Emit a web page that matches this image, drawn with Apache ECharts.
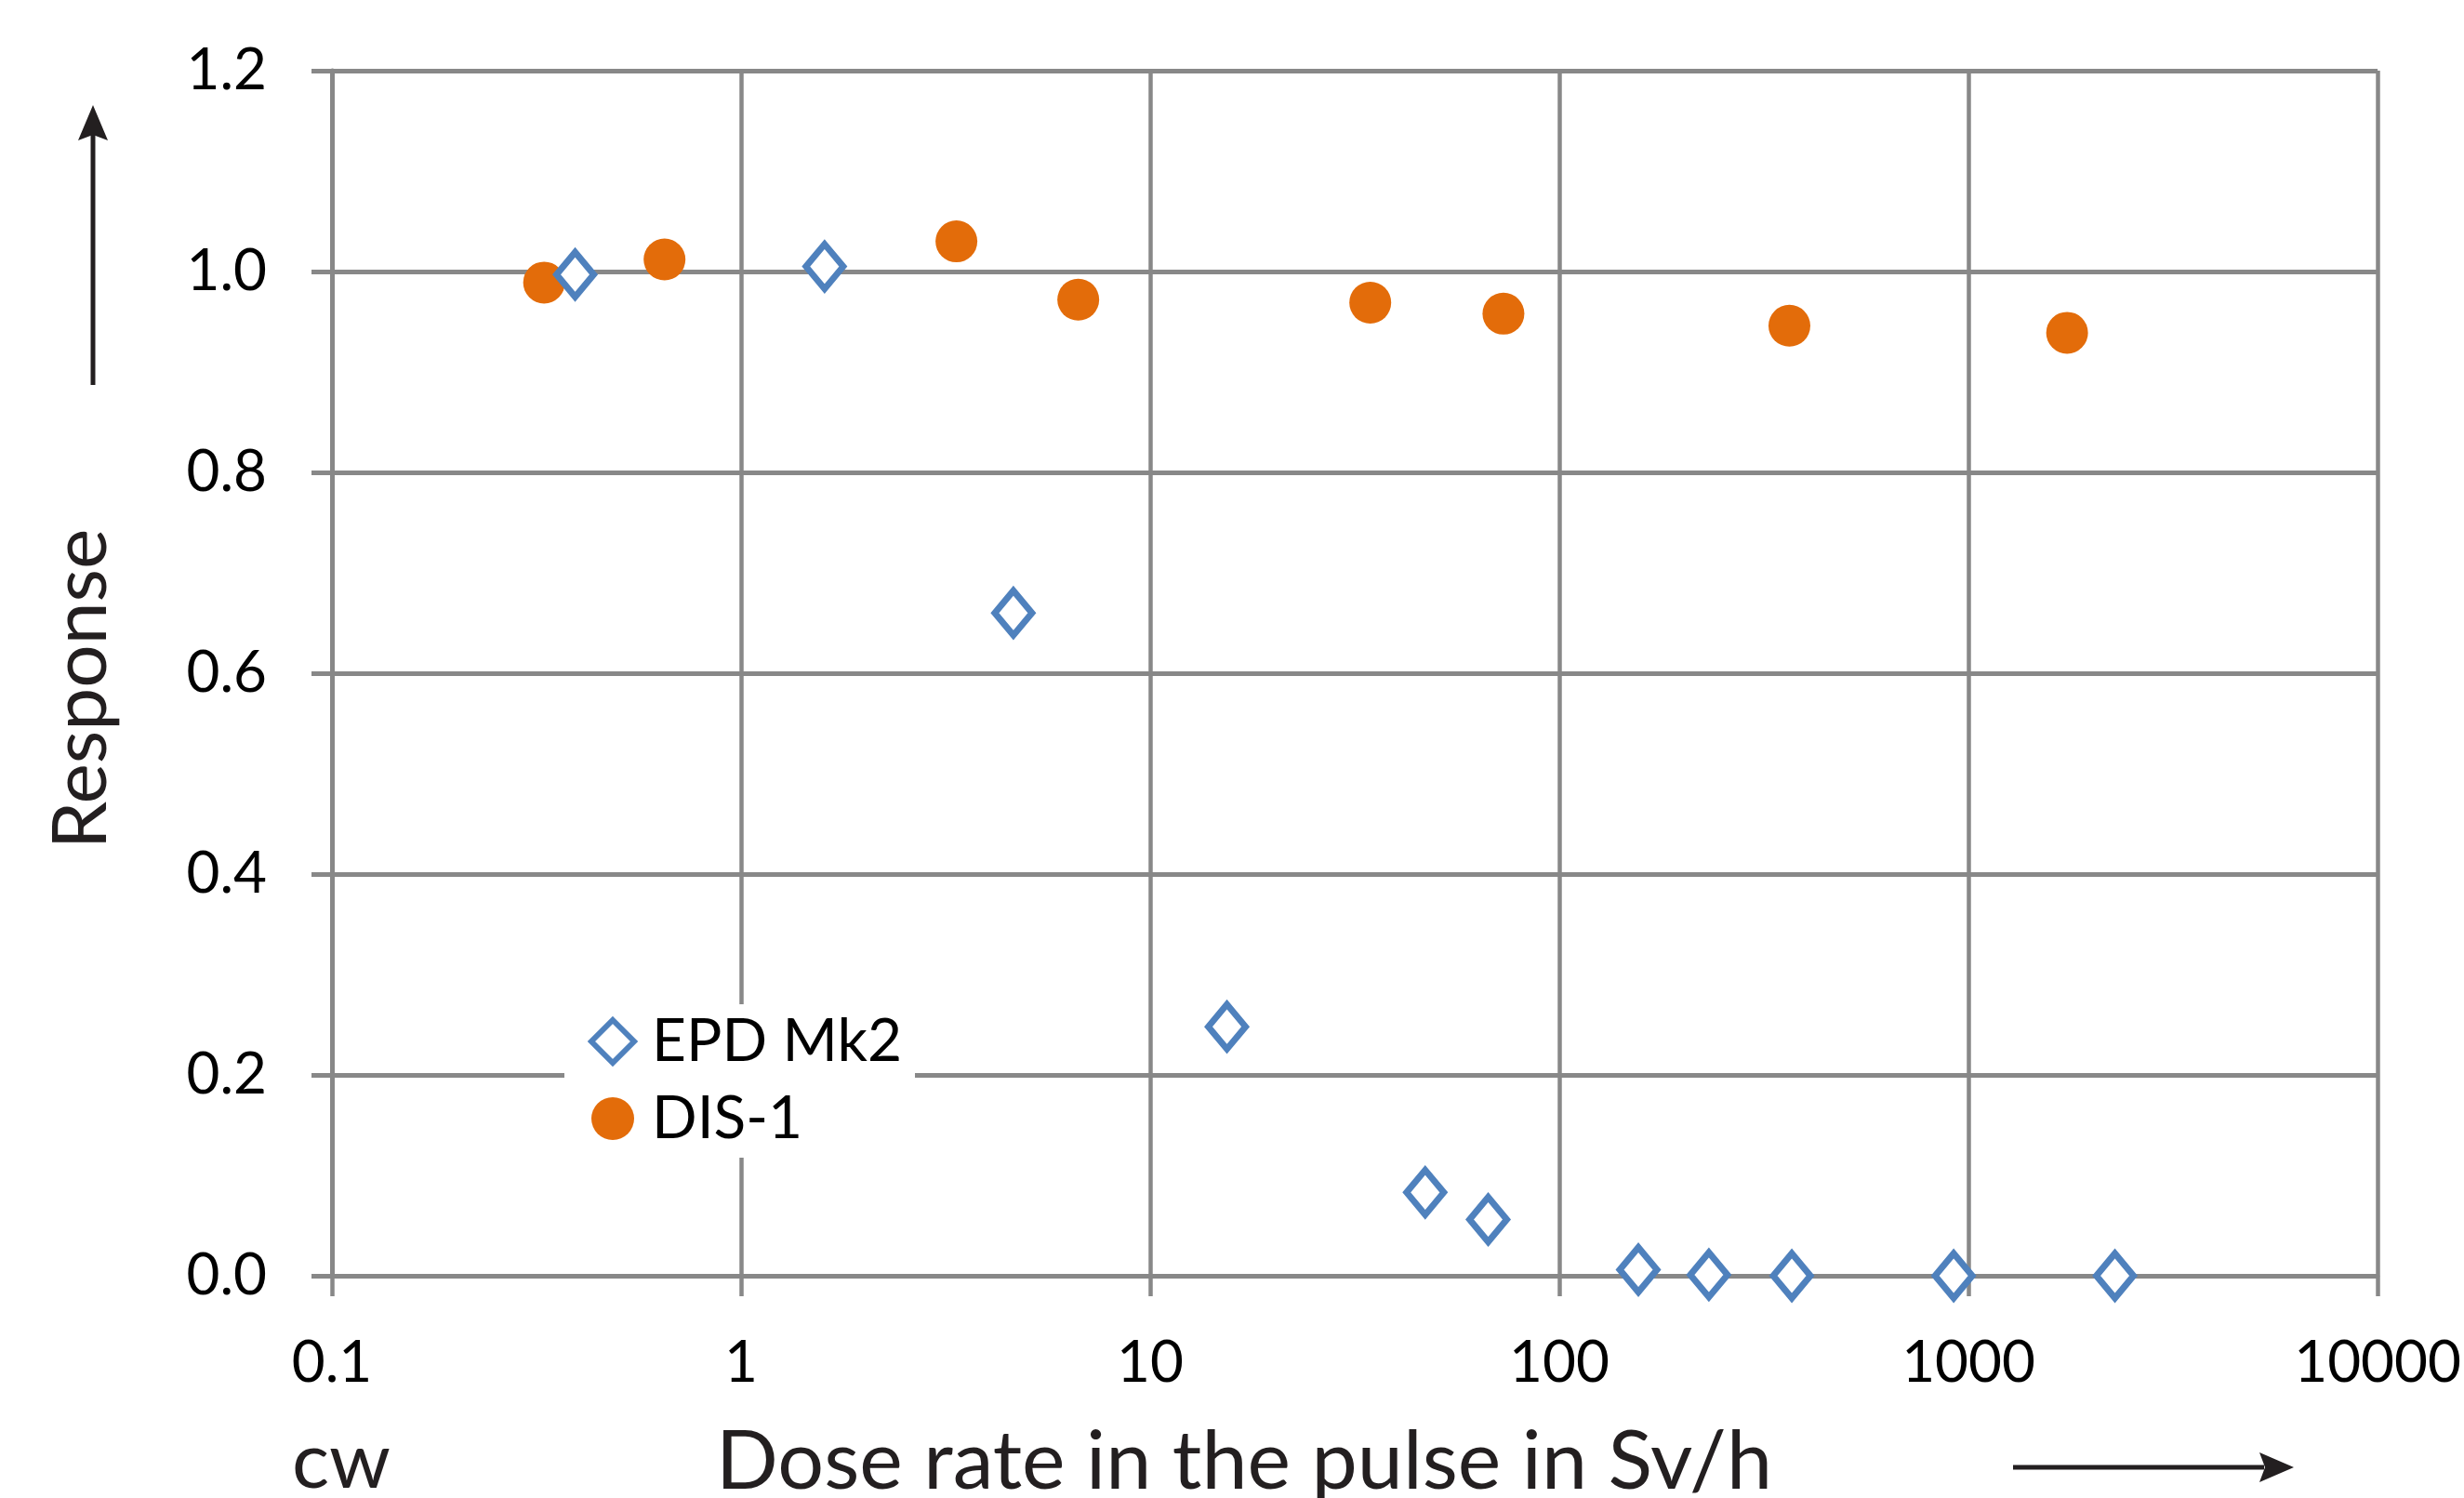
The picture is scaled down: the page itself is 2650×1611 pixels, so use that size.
<!DOCTYPE html>
<html>
<head>
<meta charset="utf-8">
<script src="https://cdn.jsdelivr.net/npm/echarts@6/dist/echarts.min.js"></script>
<style>
html,body{margin:0;padding:0;background:#fff;}
#chart{width:2650px;height:1611px;}
</style>
</head>
<body>
<div id="chart"></div>
<script>
const seriesNames = ['EPD Mk2', 'DIS-1'];
const epdX = [0.393, 1.60, 4.63, 15.4, 47, 67, 156, 232, 370, 920, 2280];
const epdY = [0.997, 1.005, 0.660, 0.248, 0.083, 0.056, 0.006, 0.001, 0.000, 0.000, 0.000];
const disX = [0.33, 0.65, 3.36, 6.67, 34.5, 73, 365, 1742];
const disY = [0.989, 1.012, 1.030, 0.972, 0.969, 0.958, 0.946, 0.939];
const xTickLabels = ['0.1', '1', '10', '100', '1000', '10000'];
const yTickLabels = ['0.0', '0.2', '0.4', '0.6', '0.8', '1.0', '1.2'];
const xTitle = 'Dose rate in the pulse in Sv/h';
const yTitle = 'Response';
const cwLabel = 'cw';

const FONT = 'Lato';
const GRID = '#888888';
const TXT = '#231F20';

const chart = echarts.init(document.getElementById('chart'), null, {renderer: 'canvas'});
const pairs = (xs, ys) => xs.map((x, i) => [x, ys[i]]);

function xLabel(v) {
  const idx = Math.round(Math.log10(v)) + 1;
  return xTickLabels[idx] !== undefined ? xTickLabels[idx] : '';
}
function yLabel(v) {
  const idx = Math.round(v / 0.2);
  return yTickLabels[idx] !== undefined ? yTickLabels[idx] : '';
}

const option = {
  animation: false,
  backgroundColor: '#fff',
  grid: {left: 357, top: 76, width: 2213, height: 1296, containLabel: false},
  xAxis: {
    type: 'log', logBase: 10, min: 0.1, max: 10000,
    axisLine: {show: true, lineStyle: {color: GRID, width: 4.5}},
    axisTick: {show: true, inside: false, length: 22, lineStyle: {color: GRID, width: 4.5}},
    splitLine: {show: true, lineStyle: {color: GRID, width: 4.5}},
    minorTick: {show: false}, minorSplitLine: {show: false},
    axisLabel: {show: true, formatter: xLabel, fontFamily: FONT, fontSize: 62, color: '#000', margin: 63}
  },
  yAxis: {
    type: 'value', min: 0, max: 1.2, interval: 0.2,
    axisLine: {show: true, lineStyle: {color: GRID, width: 5}},
    axisTick: {show: true, inside: false, length: 22, lineStyle: {color: GRID, width: 5}},
    splitLine: {show: true, lineStyle: {color: GRID, width: 5}},
    axisLabel: {show: true, formatter: yLabel, fontFamily: FONT, fontSize: 62, color: '#000', margin: 70}
  },
  legend: {
    data: seriesNames,
    orient: 'vertical',
    left: 607, top: 1080,
    backgroundColor: '#fff',
    padding: [8, 14, 10, 26],
    itemWidth: 46, itemHeight: 46,
    itemGap: 19,
    itemStyle: {borderWidth: 6},
    textStyle: {fontFamily: FONT, fontSize: 64, color: '#000', padding: [0, 0, 0, 14]}
  },
  series: [
    {
      name: seriesNames[1], type: 'scatter', z: 2,
      symbol: 'circle', symbolSize: 45,
      itemStyle: {color: '#E36C0A', opacity: 1},
      data: pairs(disX, disY)
    },
    {
      name: seriesNames[0], type: 'scatter', z: 3,
      symbol: 'diamond', symbolSize: [40, 48],
      itemStyle: {color: '#fff', borderColor: '#4F81BD', borderWidth: 7, opacity: 1},
      data: pairs(epdX, epdY)
    }
  ],
  graphic: [
    {type: 'text', x: 1338, y: 1573, z: 10,
     style: {text: xTitle, fontFamily: FONT, fontSize: 88, fill: TXT, textAlign: 'center', textVerticalAlign: 'middle'}},
    {type: 'text', x: 367, y: 1573, z: 10,
     style: {text: cwLabel, fontFamily: FONT, fontSize: 84, fill: TXT, textAlign: 'center', textVerticalAlign: 'middle'}},
    {type: 'text', x: 88, y: 741, rotation: Math.PI / 2, z: 10,
     style: {text: yTitle, fontFamily: FONT, fontSize: 82, fill: TXT, textAlign: 'center', textVerticalAlign: 'middle'}},
    {type: 'line', z: 10, shape: {x1: 100, y1: 414, x2: 100, y2: 145}, style: {stroke: TXT, lineWidth: 5}},
    {type: 'polygon', z: 10, shape: {points: [[100, 113], [84, 151], [100, 145], [116, 151]]}, style: {fill: TXT}},
    {type: 'line', z: 10, shape: {x1: 2165, y1: 1578, x2: 2435, y2: 1578}, style: {stroke: TXT, lineWidth: 5}},
    {type: 'polygon', z: 10, shape: {points: [[2467, 1578], [2430, 1562], [2436, 1578], [2430, 1594]]}, style: {fill: TXT}}
  ]
};
chart.setOption(option);
</script>
</body>
</html>
